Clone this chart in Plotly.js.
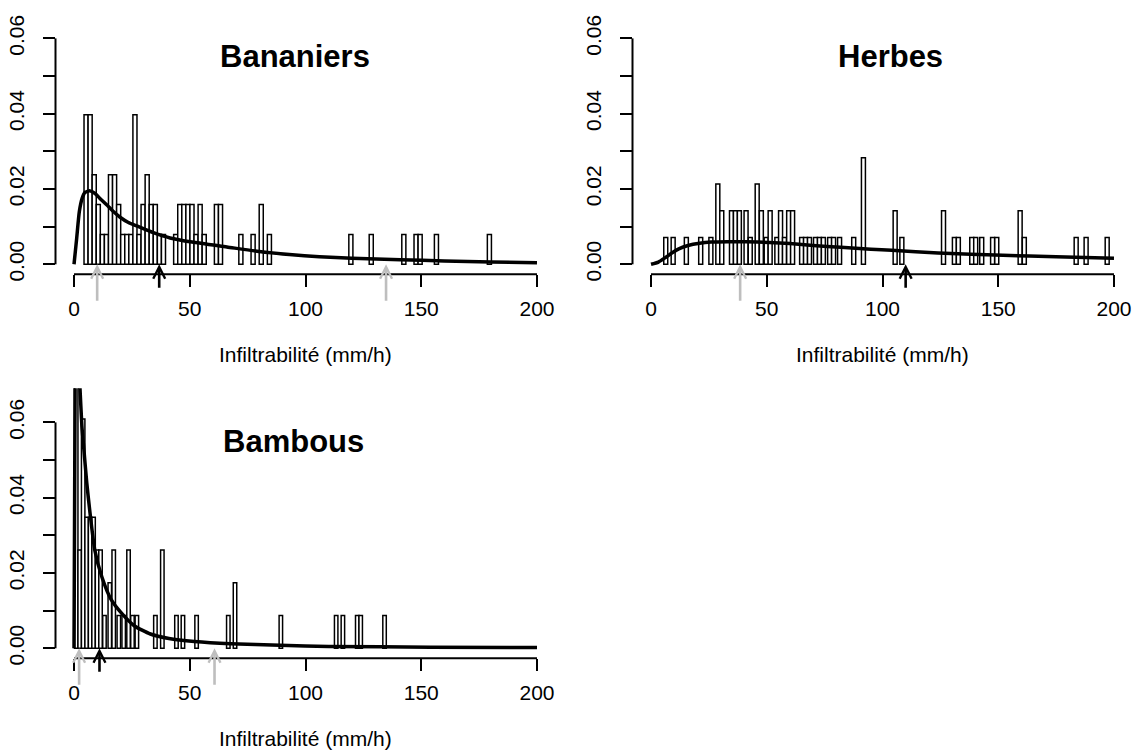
<!DOCTYPE html>
<html>
<head>
<meta charset="utf-8">
<script src="https://cdn.plot.ly/plotly-3.0.1.min.js"></script>
<style>html,body{margin:0;padding:0;background:#fff;}#chart{width:1141px;height:754px;}</style>
</head>
<body>
<div id="chart"></div>
<script>
// ---------- data ----------
const panelTitles = ['Bananiers', 'Herbes', 'Bambous'];
const xAxisTitle = 'Infiltrabilité (mm/h)';
const xTicks = [0, 50, 100, 150, 200];
const yTicks = [0, 0.01, 0.02, 0.03, 0.04, 0.05, 0.06];
const yTickText = ['0.00', '', '0.02', '', '0.04', '', '0.06'];

// Bananiers histogram: bin start (mm/h) and density
const banStart = [4.32, 6.08, 7.84, 9.60, 11.36, 13.12, 14.88, 16.64, 18.40, 20.16, 21.92, 23.68, 25.44, 27.20, 28.96, 30.72, 32.48, 34.24, 36.00, 37.76, 43.04, 44.80, 46.56, 48.32, 50.08, 51.84, 53.60, 55.36, 60.64, 62.40, 71.20, 76.48, 80.00, 83.52, 118.72, 127.52, 141.60, 146.88, 148.64, 155.68, 178.56];
const banDens  = [0.0397, 0.0397, 0.0238, 0.0159, 0.0079, 0.0079, 0.0238, 0.0238, 0.0159, 0.0079, 0.0079, 0.0079, 0.0397, 0.0079, 0.0159, 0.0238, 0.0159, 0.0159, 0.0079, 0.0079, 0.0079, 0.0159, 0.0159, 0.0159, 0.0159, 0.0079, 0.0159, 0.0079, 0.0159, 0.0159, 0.0079, 0.0079, 0.0159, 0.0079, 0.0079, 0.0079, 0.0079, 0.0079, 0.0079, 0.0079, 0.0079];
const banCurveX = [0, 1.15, 2.3, 3.5, 4.75, 6.9, 9.1, 11.2, 14.1, 17, 19.9, 23.5, 27.1, 34.3, 41.5, 51, 66, 80, 93, 106, 120, 141, 160, 180, 200];
const banCurveY = [0, 0.0069, 0.0140, 0.0175, 0.0191, 0.0195, 0.0188, 0.0175, 0.0158, 0.0140, 0.0125, 0.0111, 0.0102, 0.0084, 0.0070, 0.0059, 0.0046, 0.0034, 0.0026, 0.0020, 0.0016, 0.0012, 0.0009, 0.0006, 0.0004];
const banGrayArrows = [10.0, 134.8];
const banBlackArrows = [36.8];

// Herbes histogram
const herStart = [5.5, 8.7, 14.4, 20.6, 25.0, 28.0, 29.7, 33.9, 35.6, 37.3, 40.2, 42.0, 45.0, 46.8, 48.9, 50.6, 53.5, 55.1, 56.8, 58.6, 60.3, 64.2, 65.9, 67.6, 70.2, 71.9, 73.6, 76.3, 78.0, 80.6, 86.7, 90.9, 104.6, 107.5, 125.5, 130.2, 131.9, 137.7, 139.4, 142.0, 146.7, 148.5, 158.6, 160.4, 182.8, 187.1, 196.2];
const herDens  = [0.0071, 0.0071, 0.0071, 0.0071, 0.0071, 0.0213, 0.0142, 0.0142, 0.0142, 0.0142, 0.0142, 0.0071, 0.0213, 0.0142, 0.0071, 0.0142, 0.0071, 0.0142, 0.0071, 0.0142, 0.0142, 0.0071, 0.0071, 0.0071, 0.0071, 0.0071, 0.0071, 0.0071, 0.0071, 0.0071, 0.0071, 0.0283, 0.0142, 0.0071, 0.0142, 0.0071, 0.0071, 0.0071, 0.0071, 0.0071, 0.0071, 0.0071, 0.0142, 0.0071, 0.0071, 0.0071, 0.0071];
const herCurveX = [0, 3.2, 6, 9, 12, 16, 21, 26, 33, 41, 51, 60, 70, 82, 95, 104, 124, 152, 175, 200];
const herCurveY = [0, 0.0006, 0.0017, 0.0030, 0.0041, 0.0050, 0.0056, 0.0059, 0.0060, 0.0060, 0.0058, 0.0055, 0.0050, 0.0045, 0.0040, 0.0037, 0.0030, 0.0024, 0.0020, 0.0016];
const herGrayArrows = [38.5];
const herBlackArrows = [110.0];

// Bambous histogram
const bamStart = [0.2, 1.7, 3.2, 4.7, 6.2, 7.7, 9.2, 10.7, 12.4, 14.7, 16.4, 18.6, 20.7, 22.8, 24.5, 26.4, 34.4, 37.4, 43.5, 46.3, 52.2, 65.9, 68.8, 88.6, 112.5, 115.4, 121.6, 123.1, 133.4];
const bamDens  = [0.095, 0.0261, 0.0609, 0.0348, 0.0348, 0.0348, 0.0261, 0.0261, 0.0087, 0.0174, 0.0261, 0.0087, 0.0087, 0.0261, 0.0087, 0.0087, 0.0087, 0.0261, 0.0087, 0.0087, 0.0087, 0.0087, 0.0174, 0.0087, 0.0087, 0.0087, 0.0087, 0.0087, 0.0087];
const bamCurveX = [0, 0.4, 0.8, 1.5, 2.5, 3.4, 4.1, 5.5, 6.9, 9, 12, 16, 20.7, 26, 33, 41, 52, 67.6, 89, 110, 154, 200];
const bamCurveY = [0, 0.060, 0.085, 0.082, 0.070, 0.059, 0.054, 0.044, 0.036, 0.026, 0.019, 0.013, 0.0092, 0.0060, 0.0038, 0.0026, 0.0018, 0.0012, 0.0008, 0.0005, 0.0003, 0.0002];
const bamGrayArrows = [2.2, 60.7];
const bamBlackArrows = [11.0];

// ---------- layout constants ----------
const W = 1141, H = 754;
const FONT = 'Liberation Sans, Arial, Helvetica, sans-serif';
const xRange = [-8, 208];
const yRange = [-0.002656, 0.069056];
const xDomLeft = [55.5 / W, 555.5 / W];
const xDomRight = [632.5 / W, 1132.5 / W];
const yDomTop = [1 - 274.3 / H, 1 - 4.3 / H];
const yDomBot = [1 - 658.3 / H, 1 - 388.3 / H];

const panels = [
  {name: panelTitles[0], start: banStart, dens: banDens, w: 1.76, cx: banCurveX, cy: banCurveY, gray: banGrayArrows, black: banBlackArrows, xa: 'x', ya: 'y', xd: xDomLeft, yd: yDomTop, titleX: 295, titleY: 57},
  {name: panelTitles[1], start: herStart, dens: herDens, w: 1.72, cx: herCurveX, cy: herCurveY, gray: herGrayArrows, black: herBlackArrows, xa: 'x2', ya: 'y2', xd: xDomRight, yd: yDomTop, titleX: 890, titleY: 57},
  {name: panelTitles[2], start: bamStart, dens: bamDens, w: 1.5, cx: bamCurveX, cy: bamCurveY, gray: bamGrayArrows, black: bamBlackArrows, xa: 'x3', ya: 'y3', xd: xDomLeft, yd: yDomBot, titleX: 293, titleY: 442}
];

const traces = [];
const shapes = [];
const annotations = [];

function toPaperX(v, d) { return d[0] + (v - xRange[0]) / (xRange[1] - xRange[0]) * (d[1] - d[0]); }
function toPaperY(v, d) { return d[0] + (v - yRange[0]) / (yRange[1] - yRange[0]) * (d[1] - d[0]); }

panels.forEach(p => {
  traces.push({
    type: 'bar', xaxis: p.xa, yaxis: p.ya,
    x: p.start.map(s => s + p.w / 2), y: p.dens, width: p.w,
    marker: {color: 'white', line: {color: 'black', width: 1.5}},
    hoverinfo: 'skip'
  });
  traces.push({
    type: 'scatter', mode: 'lines', xaxis: p.xa, yaxis: p.ya,
    x: p.cx, y: p.cy,
    line: {color: 'black', width: 3.5, shape: 'spline', smoothing: 0.6},
    hoverinfo: 'skip'
  });
  // R-style axis lines spanning only the tick range
  shapes.push({type: 'line', xref: 'paper', yref: 'paper',
    x0: toPaperX(xTicks[0], p.xd), x1: toPaperX(xTicks[xTicks.length - 1], p.xd),
    y0: p.yd[0], y1: p.yd[0], line: {color: 'black', width: 2}});
  shapes.push({type: 'line', xref: 'paper', yref: 'paper',
    x0: p.xd[0], x1: p.xd[0],
    y0: toPaperY(yTicks[0], p.yd), y1: toPaperY(yTicks[yTicks.length - 1], p.yd),
    line: {color: 'black', width: 2}});
  // arrows
  p.gray.forEach(v => annotations.push({xref: p.xa, yref: p.ya, x: v, y: 0, ax: 0, ay: 38, text: '',
    showarrow: true, arrowhead: 5, arrowsize: 0.9, arrowwidth: 2.6, arrowcolor: '#bebebe', standoff: 0}));
  p.black.forEach(v => annotations.push({xref: p.xa, yref: p.ya, x: v, y: 0, ax: 0, ay: 25, text: '',
    showarrow: true, arrowhead: 5, arrowsize: 0.9, arrowwidth: 2.6, arrowcolor: 'black', standoff: 0}));
  // panel title
  annotations.push({xref: 'paper', yref: 'paper', x: p.titleX / W, y: 1 - p.titleY / H,
    xanchor: 'center', yanchor: 'middle', showarrow: false, text: '<b>' + p.name + '</b>',
    font: {family: FONT, size: 31, color: 'black'}});
  // x axis title
  annotations.push({xref: 'paper', yref: 'paper', x: (p.xd[0] + p.xd[1]) / 2,
    y: p.yd[0] - 80 / H, xanchor: 'center', yanchor: 'middle', showarrow: false,
    text: xAxisTitle, font: {family: FONT, size: 21, color: 'black'}});
});

const xCommon = {range: xRange, tickmode: 'array', tickvals: xTicks, ticktext: xTicks.map(String),
  ticks: 'outside', ticklen: 12, tickwidth: 2, tickcolor: 'black', showline: false, showgrid: false,
  zeroline: false, fixedrange: true, tickfont: {family: FONT, size: 21, color: 'black'}, ticklabelstandoff: 3};
const yCommon = {range: yRange, tickmode: 'array', tickvals: yTicks, ticktext: yTickText, tickangle: -90,
  ticks: 'outside', ticklen: 12, tickwidth: 2, tickcolor: 'black', showline: false, showgrid: false,
  zeroline: false, fixedrange: true, tickfont: {family: FONT, size: 21, color: 'black'}, ticklabelstandoff: 10};

const layout = {
  width: W, height: H, margin: {l: 0, r: 0, t: 0, b: 0},
  paper_bgcolor: 'white', plot_bgcolor: 'white', showlegend: false,
  barmode: 'overlay', font: {family: FONT, size: 21, color: 'black'},
  xaxis: Object.assign({}, xCommon, {domain: xDomLeft, anchor: 'y'}),
  yaxis: Object.assign({}, yCommon, {domain: yDomTop, anchor: 'x'}),
  xaxis2: Object.assign({}, xCommon, {domain: xDomRight, anchor: 'y2'}),
  yaxis2: Object.assign({}, yCommon, {domain: yDomTop, anchor: 'x2'}),
  xaxis3: Object.assign({}, xCommon, {domain: xDomLeft, anchor: 'y3'}),
  yaxis3: Object.assign({}, yCommon, {domain: yDomBot, anchor: 'x3'}),
  shapes: shapes, annotations: annotations
};

Plotly.newPlot('chart', traces, layout, {staticPlot: true, displayModeBar: false});
</script>
</body>
</html>
